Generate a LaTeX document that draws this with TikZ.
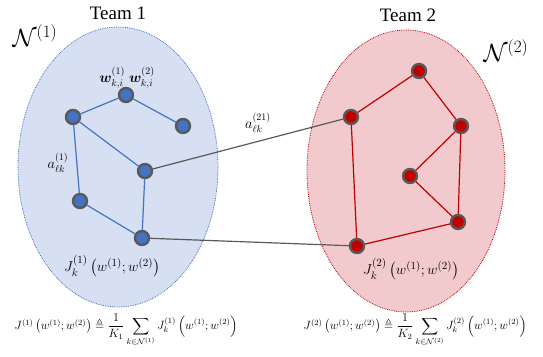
\documentclass[tikz,border=0pt]{standalone}
\usepackage{amsmath,amssymb,bm}
\usepackage{fontspec}
\setmainfont{Liberation Serif}
\definecolor{bfill}{HTML}{4472C4}
\definecolor{bback}{HTML}{D6E0F2}
\definecolor{rfill}{HTML}{C00000}
\definecolor{rback}{HTML}{F2CACD}
\definecolor{ring}{HTML}{595959}
\tikzset{
  bnode/.style={circle,fill=bfill,draw=ring,line width=2.4pt,minimum size=14pt,inner sep=0pt},
  rnode/.style={circle,fill=rfill,draw=ring,line width=2.4pt,minimum size=14pt,inner sep=0pt},
  bedge/.style={draw=bfill,line width=1.2pt},
  redge/.style={draw=rfill,line width=1.2pt},
  xedge/.style={draw=ring,line width=1.2pt},
  lbl/.style={inner sep=0pt},
}
\begin{document}
\begin{tikzpicture}[x=1pt,y=-1pt]
\useasboundingbox (0,0) rectangle (543,356);
% team regions
\draw[bfill,densely dotted,fill=bback,line width=0.8pt] (118,167) ellipse [x radius=100pt, y radius=140pt];
\draw[rfill,densely dotted,fill=rback,line width=0.8pt] (406,171) ellipse [x radius=99pt, y radius=141pt];
% titles
\node[lbl] (t1) at (118,13) {\fontsize{19}{21}\selectfont Team 1};
\node[lbl] (t2) at (408,15) {\fontsize{19}{21}\selectfont Team 2};
\node[lbl] (n1) at (35,36) {\fontsize{23}{25}\selectfont $\mathcal{N}^{(1)}$};
\node[lbl] (n2) at (506,51) {\fontsize{23}{25}\selectfont $\mathcal{N}^{(2)}$};
% blue nodes
\node[bnode] (A) at (126,95) {};
\node[bnode] (B) at (73,117) {};
\node[bnode] (C) at (183,126) {};
\node[bnode] (D) at (145,171) {};
\node[bnode] (E) at (80,201) {};
\node[bnode] (F) at (142,238) {};
% red nodes
\node[rnode] (R1) at (419,71) {};
\node[rnode] (R2) at (351,117) {};
\node[rnode] (R3) at (461,126) {};
\node[rnode] (R4) at (410,176) {};
\node[rnode] (R5) at (458,222) {};
\node[rnode] (R6) at (357,246) {};
% edges
\draw[bedge] (A) -- (B);
\draw[bedge] (A) -- (C);
\draw[bedge] (B) -- (D);
\draw[bedge] (B) -- (E);
\draw[bedge] (D) -- (F);
\draw[bedge] (E) -- (F);
\draw[redge] (R2) -- (R1);
\draw[redge] (R1) -- (R3);
\draw[redge] (R3) -- (R4);
\draw[redge] (R3) -- (R5);
\draw[redge] (R4) -- (R5);
\draw[redge] (R2) -- (R6);
\draw[redge] (R6) -- (R5);
\draw[xedge] (D) -- (R2);
\draw[xedge] (F) -- (R6);
% labels
\node[lbl] (wl) at (127,78) {\fontsize{14.5}{16}\selectfont $\bm{w}^{(1)}_{k,i}\;\bm{w}^{(2)}_{k,i}$};
\node[lbl] (al) at (58,163) {\fontsize{14}{16}\selectfont $a^{(1)}_{\ell k}$};
\node[lbl] (ax) at (258,123) {\fontsize{14}{16}\selectfont $a^{(21)}_{\ell k}$};
\node[lbl] (j1) at (112,266) {\fontsize{15}{17}\selectfont $J^{(1)}_{k}\left(w^{(1)};w^{(2)}\right)$};
\node[lbl] (j2) at (411,269) {\fontsize{15}{17}\selectfont $J^{(2)}_{k}\left(w^{(1)};w^{(2)}\right)$};
\node[lbl] (f1) at (126,330) {\fontsize{11.8}{13}\selectfont $J^{(1)}\left(w^{(1)};w^{(2)}\right)\triangleq\dfrac{1}{K_1}\displaystyle\sum_{k\in\mathcal{N}^{(1)}}J^{(1)}_{k}\left(w^{(1)};w^{(2)}\right)$};
\node[lbl] (f2) at (415,330) {\fontsize{11.8}{13}\selectfont $J^{(2)}\left(w^{(1)};w^{(2)}\right)\triangleq\dfrac{1}{K_2}\displaystyle\sum_{k\in\mathcal{N}^{(2)}}J^{(2)}_{k}\left(w^{(1)};w^{(2)}\right)$};
\end{tikzpicture}
\end{document}
